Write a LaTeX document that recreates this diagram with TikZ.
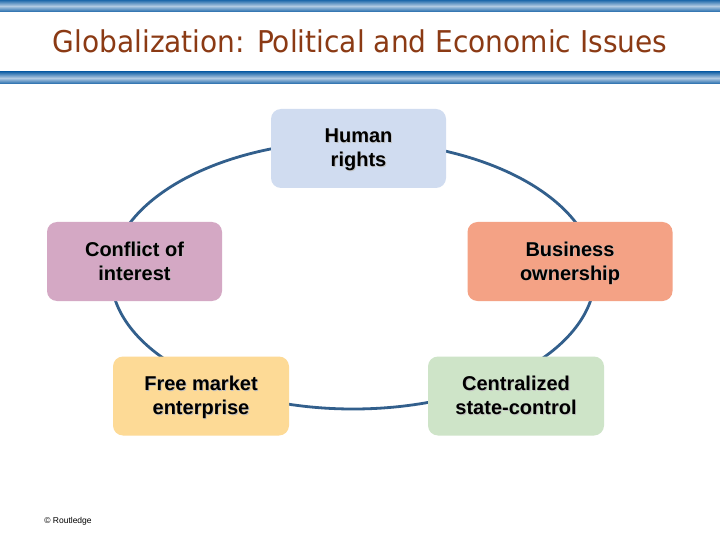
\documentclass[tikz,border=0pt]{standalone}
\usepackage{fontspec}
\usepackage{xcolor}
\setmainfont{Liberation Sans}
\newfontfamily\titlefont{DejaVu Sans}
\definecolor{titlebrown}{RGB}{139,58,20}
\definecolor{barblue}{RGB}{30,104,170}
\definecolor{barlight}{RGB}{178,202,226}
\definecolor{ringblue}{RGB}{50,95,140}
\definecolor{humanfill}{RGB}{208,220,240}
\definecolor{conflictfill}{RGB}{212,168,196}
\definecolor{businessfill}{RGB}{244,162,133}
\definecolor{freefill}{RGB}{253,218,150}
\definecolor{centralfill}{RGB}{206,228,200}
\newcommand{\shd}[1]{\leavevmode\rlap{\hspace{0.9pt}\raisebox{-0.9pt}{\textcolor{black!25}{#1}}}#1}

\begin{document}
\begin{tikzpicture}[x=1pt,y=-1pt,
  bar/.style={top color=barblue,bottom color=barblue,middle color=barlight,draw=none},
  topic/.style={rounded corners=10pt,draw=none,minimum height=79pt,align=center,
    text height=37pt,text depth=0pt,font=\fontsize{20}{24}\selectfont\bfseries},
  ring/.style={draw=ringblue,line width=2.8pt}]
\useasboundingbox[fill=white] (0,0) rectangle (720,540);
% Drawing bars and title
\path[bar] (0,0) rectangle (720,12);
\path[bar] (0,72) rectangle (720,84);
\node[text=titlebrown,font=\titlefont\fontsize{30}{32}\selectfont,xscale=0.935] (title) at (360,41) {Globalization: Political and Economic Issues};
% Drawing the ring
\draw[ring] (353,275) ellipse [x radius=242,y radius=134];
% Drawing topics
\node[topic,fill=humanfill,minimum width=175pt] (human) at (358.5,148.5) {\shd{Human}\\\shd{rights}};
\node[topic,fill=conflictfill,minimum width=175pt] (conflict) at (134.5,261.5) {\shd{Conflict of}\\\shd{interest}};
\node[topic,fill=businessfill,minimum width=205pt] (business) at (570,261.5) {\shd{Business}\\\shd{ownership}};
\node[topic,fill=freefill,minimum width=176pt] (free) at (201,396) {\shd{Free market}\\\shd{enterprise}};
\node[topic,fill=centralfill,minimum width=176pt] (central) at (516,396) {\shd{Centralized}\\\shd{state-control}};
% Done with topics; drawing footer
\node[font=\fontsize{8.5}{9}\selectfont] (credit) at (68,521) {\textcopyright{} Routledge};
\end{tikzpicture}
\end{document}
